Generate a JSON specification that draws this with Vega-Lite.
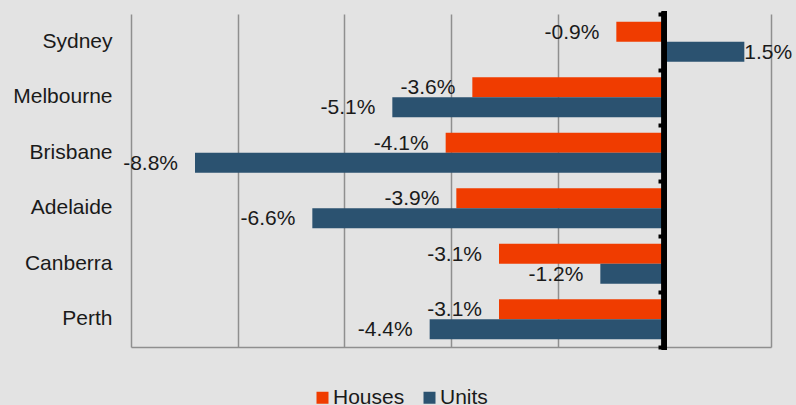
{
  "$schema": "https://vega.github.io/schema/vega-lite/v6.json",
  "width": 640,
  "height": 333,
  "autosize": {"type": "none"},
  "padding": {"left": 131, "top": 14, "right": 25, "bottom": 58},
  "background": "#e3e3e3",
  "config": {
    "view": {"stroke": null},
    "font": "Liberation Sans",
    "text": {"font": "Liberation Sans"}
  },
  "data": {
    "values": [
      {"city": "Sydney", "type": "Houses", "value": -0.9, "label": "-0.9%"},
      {"city": "Sydney", "type": "Units", "value": 1.5, "label": "1.5%"},
      {"city": "Melbourne", "type": "Houses", "value": -3.6, "label": "-3.6%"},
      {"city": "Melbourne", "type": "Units", "value": -5.1, "label": "-5.1%"},
      {"city": "Brisbane", "type": "Houses", "value": -4.1, "label": "-4.1%"},
      {"city": "Brisbane", "type": "Units", "value": -8.8, "label": "-8.8%"},
      {"city": "Adelaide", "type": "Houses", "value": -3.9, "label": "-3.9%"},
      {"city": "Adelaide", "type": "Units", "value": -6.6, "label": "-6.6%"},
      {"city": "Canberra", "type": "Houses", "value": -3.1, "label": "-3.1%"},
      {"city": "Canberra", "type": "Units", "value": -1.2, "label": "-1.2%"},
      {"city": "Perth", "type": "Houses", "value": -3.1, "label": "-3.1%"},
      {"city": "Perth", "type": "Units", "value": -4.4, "label": "-4.4%"}
    ]
  },
  "layer": [
    {
      "encoding": {
        "y": {
          "field": "city", "type": "nominal",
          "sort": ["Sydney", "Melbourne", "Brisbane", "Adelaide", "Canberra", "Perth"],
          "scale": {"paddingInner": 0.28, "paddingOuter": 0.14},
          "axis": {
            "title": null, "ticks": false, "domain": false,
            "labelFontSize": 21, "labelColor": "#1a1a1a", "labelPadding": 19,
            "labelFont": "Liberation Sans"
          }
        },
        "yOffset": {"field": "type", "type": "nominal", "sort": ["Houses", "Units"], "scale": {"paddingInner": 0, "paddingOuter": 0}}
      },
      "layer": [
        {
          "mark": {"type": "bar"},
          "encoding": {
            "x": {
              "field": "value", "type": "quantitative",
              "scale": {"domain": [-10, 2], "nice": false, "zero": false},
              "axis": {
                "title": null, "labels": false, "ticks": false,
                "values": [-10, -8, -6, -4, -2, 0, 2],
                "grid": true, "gridColor": "#8f8f8f", "gridWidth": 1.5, "gridOpacity": 1,
                "domain": true, "domainColor": "#8f8f8f", "domainWidth": 1.5
              }
            },
            "color": {
              "field": "type", "type": "nominal",
              "scale": {"domain": ["Houses", "Units"], "range": ["#F03C00", "#2B5270"]},
              "legend": {
                "title": null, "orient": "none", "legendX": 181, "legendY": 373,
                "direction": "horizontal", "symbolType": "square", "symbolSize": 144,
                "symbolStrokeWidth": 0, "labelFontSize": 21, "labelColor": "#1a1a1a",
                "labelFont": "Liberation Sans", "columnPadding": 14, "labelOffset": 0
              }
            }
          }
        },
        {
          "transform": [{"filter": "datum.value < 0"}],
          "mark": {"type": "text", "align": "right", "baseline": "middle", "dx": -17, "dy": 1, "fontSize": 21, "color": "#1a1a1a"},
          "encoding": {
            "x": {"field": "value", "type": "quantitative"},
            "text": {"field": "label"}
          }
        },
        {
          "transform": [{"filter": "datum.value >= 0"}],
          "mark": {"type": "text", "align": "left", "baseline": "middle", "dx": 0, "dy": 1, "fontSize": 21, "color": "#1a1a1a"},
          "encoding": {
            "x": {"field": "value", "type": "quantitative"},
            "text": {"field": "label"}
          }
        }
      ]
    },
    {
      "mark": {"type": "tick", "opacity": 0},
      "encoding": {
        "y": {
          "field": "city", "type": "nominal",
          "sort": ["Sydney", "Melbourne", "Brisbane", "Adelaide", "Canberra", "Perth"],
          "scale": {"paddingInner": 0, "paddingOuter": 0},
          "axis": {
            "orient": "right", "offset": -107, "title": null, "labels": false,
            "domain": false, "ticks": true, "tickBand": "extent",
            "tickSize": -6, "tickWidth": 4, "tickColor": "#000000", "grid": false
          }
        },
        "x": {"datum": 0, "type": "quantitative"}
      }
    },
    {
      "mark": {"type": "rule", "color": "#000000", "strokeWidth": 5, "strokeCap": "square"},
      "encoding": {"x": {"datum": 0, "type": "quantitative"}}
    }
  ],
  "resolve": {"scale": {"y": "independent"}, "axis": {"y": "independent"}}
}
